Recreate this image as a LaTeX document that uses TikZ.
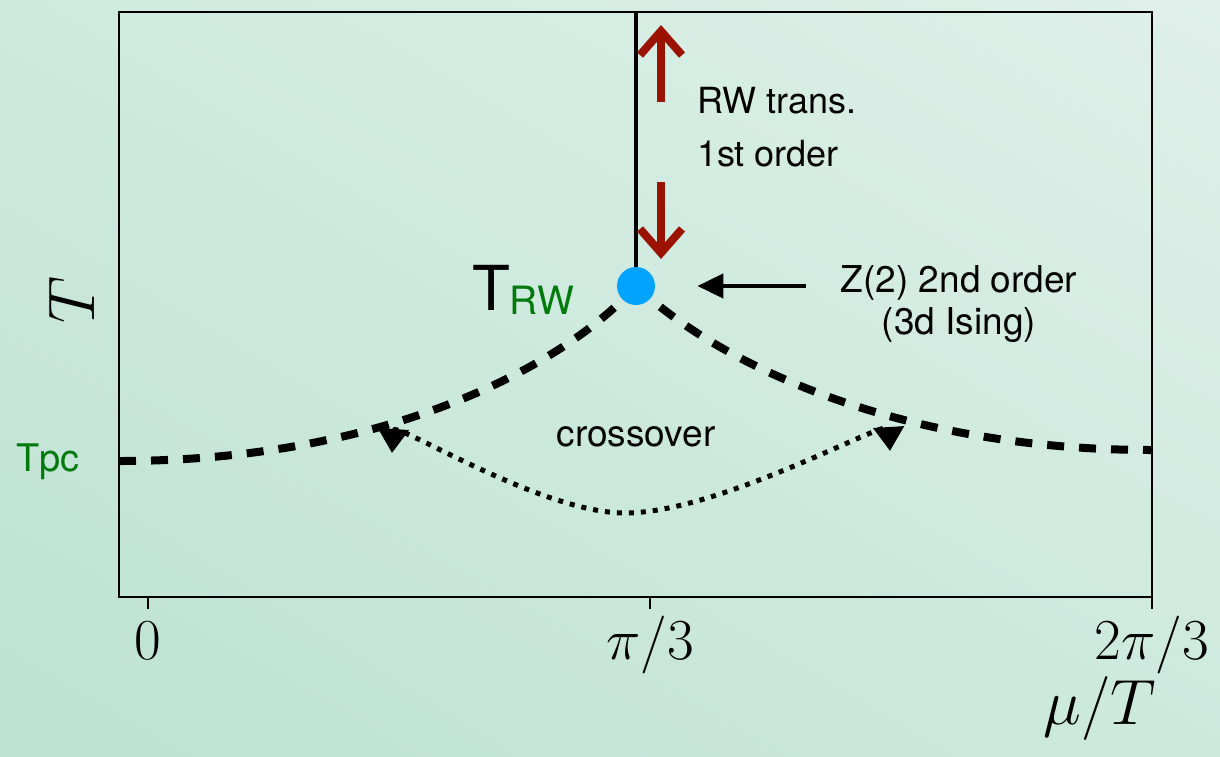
\RequirePackage{fix-cm}
\documentclass[tikz,border=0pt]{standalone}
\usepackage{amsmath}
\usepackage{tikz}
\usetikzlibrary{arrows.meta,shadings}
\usepackage{fontspec}
\newfontfamily\helv{TeX Gyre Heros}
\definecolor{rwred}{RGB}{155,18,0}
\definecolor{rwblue}{RGB}{0,163,255}
\definecolor{rwgreen}{RGB}{0,122,10}
\definecolor{bgul}{RGB}{206,234,222}
\definecolor{bgur}{RGB}{223,240,234}
\definecolor{bgll}{RGB}{189,226,209}
\definecolor{bglr}{RGB}{205,233,222}

\begin{document}
\begin{tikzpicture}[x=0.5pt,y=-0.5pt,
  lbl/.style={font=\helv\fontsize{18.5}{21}\selectfont},
  mathlbl/.style={font=\fontsize{29}{30}\selectfont},
  phase/.style={line width=4pt,dash pattern=on 8.5pt off 7.5pt},
  cross/.style={line width=2.5pt,dash pattern=on 2.5pt off 3.5pt,
    {Triangle[length=12pt,width=15pt]}-{Triangle[length=12pt,width=15pt]}},
  redarrow/.style={rwred,line width=4pt,-{Straight Barb[length=12pt,width=21pt]}},
  cepdot/.style={circle,fill=rwblue,minimum size=19pt,inner sep=0pt}]

% background and frame
\shade[upper left=bgul,upper right=bgur,lower left=bgll,lower right=bglr]
  (0,0) rectangle (1220,756);
\useasboundingbox (0,0) rectangle (1220,756);
\draw[line width=1.1pt] (119,12) rectangle (1152,597);

\foreach \x/\lab/\n in {148/{$0$}/t0, 650/{$\pi/3$}/t1, 1152/{$2\pi/3$}/t2}{
  \draw[line width=0.8pt] (\x,597) -- (\x,609);
  \node[mathlbl,anchor=base] (\n) at (\x,659) {\lab};
}
\node[font=\fontsize{32}{32}\selectfont] (xlab) at (1100,708) {$\mu/T$};
\node[font=\fontsize{33}{33}\selectfont,rotate=90] (ylab) at (72,300) {$T$};

% phase lines
\coordinate (top) at (636,12);
\coordinate (cep) at (636,286);
\coordinate (lend) at (119,461);
\coordinate (rend) at (1152,450);
\draw[phase] (lend) .. controls (380,461) and (560,370) .. (cep);
\draw[phase] (cep) .. controls (720,365) and (900,450) .. (rend);
\node[cepdot] (rw) at (cep) {};
\draw[line width=2pt] (top) -- (rw);

% crossover
\coordinate (xl) at (392,453);
\coordinate (xb) at (625,513);
\coordinate (xr) at (890,451);
\draw[cross] (xl) .. controls (394,420) and (540,513) .. (xb)
  .. controls (720,513) and (888,418) .. (xr);
\node[lbl] (xo) at (636,437) {crossover};

% RW line
\coordinate (uptail) at (661,102);
\coordinate (uptip) at (661,25);
\coordinate (dntail) at (661,182);
\coordinate (dntip) at (661,259);
\draw[redarrow] (uptail) -- (uptip);
\draw[redarrow] (dntail) -- (dntip);
\node[lbl,font=\helv\fontsize{18}{26.5}\selectfont,anchor=west,align=left]
  (rwlbl) at (690,127) {RW trans.\\1st order};

\node[lbl,align=center] (zlbl) at (959,304) {Z(2) 2nd order\\(3d Ising)};
\coordinate (ztail) at (806,286);
\draw[line width=2.2pt,-{Triangle[length=13pt,width=12pt]},shorten >=21pt] (ztail) -- (rw);

\node[anchor=base,inner sep=0pt] (trw) at (523,310)
  {\helv\fontsize{31}{31}\selectfont T\textcolor{rwgreen}{\fontsize{19.5}{20}\selectfont\raisebox{-2pt}{RW}}};
\node[lbl,text=rwgreen,font=\helv\fontsize{19}{20}\selectfont] (tpc) at (48,462) {Tpc};
\end{tikzpicture}
\end{document}
